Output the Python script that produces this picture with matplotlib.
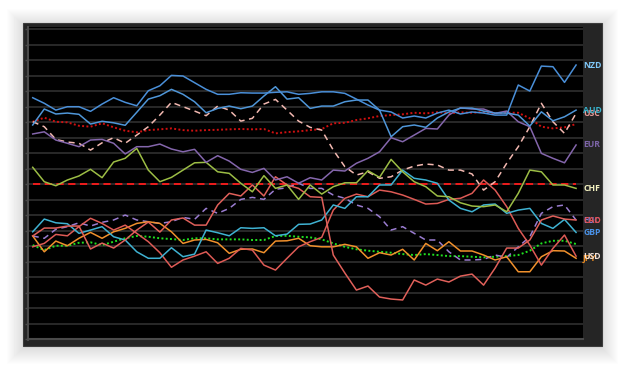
import matplotlib
matplotlib.use("Agg")
import matplotlib.pyplot as plt
from matplotlib.patches import Rectangle
import matplotlib.transforms as mtransforms

# ---- data (index = period, value = relative strength units) ----
periods = list(range(48))

nzd = [5.57, 5.21, 4.77, 4.99, 4.99, 4.69, 5.16, 5.57, 5.27, 5.05, 6.02, 6.34, 7.01, 6.97, 6.54, 6.11,
       5.79, 5.79, 5.89, 5.87, 5.87, 5.92, 5.95, 5.79, 5.85, 5.95, 5.95, 5.85, 5.48, 5.10, 4.77, 4.65,
       4.26, 4.39, 4.26, 4.58, 4.77, 4.52, 4.65, 4.58, 4.45, 4.45, 6.39, 6.00, 7.61, 7.57, 6.56, 7.68]
aud = [3.81, 4.84, 4.52, 4.58, 4.50, 3.87, 4.05, 3.95, 3.79, 4.63, 5.48, 5.70, 6.11, 5.79, 5.31, 4.60,
       4.88, 5.03, 4.86, 5.03, 5.68, 6.28, 5.48, 5.57, 4.88, 5.03, 5.03, 5.31, 5.42, 5.42, 4.77, 3.05,
       3.70, 3.81, 3.66, 4.26, 4.65, 4.90, 4.90, 4.71, 4.58, 4.58, 4.45, 3.74, 4.66, 4.08, 4.34, 4.77]
usc = [4.02, 3.70, 2.88, 2.71, 2.63, 2.19, 2.66, 2.99, 2.63, 3.16, 3.70, 4.45, 5.27, 4.99, 4.71, 4.41,
       5.03, 4.77, 4.06, 4.24, 5.16, 5.46, 4.77, 4.06, 3.66, 3.48, 2.19, 1.12, 0.58, 0.79, 0.37, 0.47,
       0.90, 1.16, 1.29, 1.23, 0.90, 0.90, 0.65, -0.39, 0.15, 1.34, 2.41, 3.70, 5.21, 4.02, 3.27, 4.56]
usc_avg = [4.02, 4.28, 4.02, 3.98, 3.76, 3.70, 3.92, 3.66, 3.44, 3.34, 3.48, 3.53, 3.59, 3.48, 3.44, 3.48,
           3.50, 3.53, 3.55, 3.53, 3.55, 3.27, 3.35, 3.40, 3.48, 3.55, 3.92, 3.95, 4.13, 4.24, 4.39, 4.45,
           4.50, 4.60, 4.56, 4.63, 4.56, 4.63, 4.60, 4.65, 4.56, 4.60, 4.60, 4.24, 3.70, 3.59, 3.66, 3.87]
eur = [3.23, 3.37, 2.84, 2.63, 2.41, 2.84, 2.88, 2.63, 1.94, 2.41, 2.41, 2.58, 2.26, 2.08, 2.24, 1.40,
       1.83, 1.48, 0.95, 0.75, 1.01, 0.26, 0.47, 0.05, 0.41, 0.26, 0.90, 0.84, 1.34, 1.66, 2.08, 2.99,
       2.73, 3.16, 3.59, 3.55, 4.45, 4.92, 4.84, 4.84, 4.56, 4.71, 4.02, 3.70, 1.98, 1.66, 1.37, 2.52]
chf = [1.08, 0.15, -0.11, 0.26, 0.52, 0.95, 0.41, 1.42, 1.66, 2.30, 0.90, 0.15, 0.43, 0.90, 1.37, 1.40,
       0.79, 0.69, 0.05, -0.50, 0.54, -0.28, -0.06, -0.99, -0.06, -0.65, -0.17, 0.08, 0.08, 0.86, 0.43, 1.59,
       0.79, 0.15, -0.17, -0.77, -0.82, -1.21, -1.42, -1.46, -1.35, -1.79, -0.60, 0.90, 0.79, -0.06, -0.06, -0.28]
zero = [0.0] * 48
cad = [-3.35, -2.84, -2.84, -2.71, -2.71, -4.19, -3.81, -4.13, -3.61, -2.97, -2.45, -3.10, -2.32, -2.19, -2.65, -2.65,
       -1.35, -0.60, -0.77, -0.06, -0.77, 0.47, -0.06, -0.28, -0.82, -0.86, -4.58, -5.74, -6.84, -6.58, -7.29, -7.42,
       -7.48, -6.19, -6.52, -6.13, -6.32, -5.94, -5.81, -6.52, -5.42, -4.13, -4.13, -3.61, -2.32, -2.06, -2.26, -2.32]
euc = [-3.35, -3.50, -2.92, -2.75, -2.50, -2.71, -2.47, -2.32, -2.00, -2.32, -2.43, -2.54, -2.43, -2.15, -2.28, -1.57,
       -1.89, -1.57, -0.99, -0.86, -0.99, -0.34, -0.24, 0.05, -0.28, -0.28, -0.71, -0.92, -1.35, -1.57, -2.11, -2.97,
       -2.75, -3.18, -3.61, -3.61, -4.37, -4.90, -4.90, -4.86, -4.58, -4.73, -4.05, -3.40, -1.89, -1.46, -1.35, -2.32]
gbp = [-3.08, -2.26, -2.50, -2.56, -3.18, -2.97, -2.75, -3.40, -3.61, -4.37, -4.79, -4.79, -4.11, -4.69, -4.52, -2.97,
       -3.14, -3.34, -2.82, -2.86, -2.82, -3.34, -3.23, -2.60, -2.58, -2.32, -1.35, -1.57, -0.82, -0.82, -0.06, -0.06,
       0.90, 0.37, 0.26, 0.05, -1.03, -1.57, -1.79, -1.35, -1.29, -1.89, -1.68, -1.57, -2.54, -2.86, -2.28, -3.12]
usd_avg = [-3.94, -4.26, -3.98, -3.98, -3.79, -3.76, -3.94, -3.72, -3.50, -3.35, -3.40, -3.50, -3.55, -3.61, -3.50, -3.50,
           -3.57, -3.57, -3.57, -3.61, -3.61, -3.35, -3.34, -3.40, -3.44, -3.57, -3.83, -4.05, -4.21, -4.30, -4.37, -4.43,
           -4.52, -4.58, -4.52, -4.58, -4.65, -4.65, -4.69, -4.73, -4.69, -4.65, -4.58, -4.30, -3.83, -3.66, -3.66, -3.87]
usd = [-4.05, -3.83, -3.25, -3.34, -2.75, -2.21, -2.54, -2.97, -2.65, -3.18, -3.72, -4.43, -5.37, -4.90, -4.65, -4.37,
       -5.12, -4.79, -4.15, -4.26, -5.23, -5.55, -4.79, -4.05, -3.72, -3.44, -1.68, -0.92, -0.65, -0.82, -0.39, -0.50,
       -0.71, -0.99, -1.29, -1.25, -0.99, -0.92, -0.60, 0.26, -0.39, -1.46, -2.86, -3.94, -5.23, -4.15, -3.29, -4.65]
jpy = [-3.35, -4.37, -3.68, -3.98, -3.50, -3.12, -3.50, -3.08, -2.86, -2.54, -2.43, -2.54, -3.08, -3.83, -3.61, -3.57,
       -3.79, -4.47, -4.21, -4.19, -4.43, -3.68, -3.66, -3.50, -3.98, -4.05, -4.05, -3.89, -4.05, -4.79, -4.43, -4.58,
       -4.21, -4.90, -3.83, -4.30, -3.72, -4.32, -4.32, -4.58, -4.90, -4.69, -5.66, -5.66, -4.69, -4.30, -4.32, -4.79]

# (name, values, line color, style, label, label color, width)
series = [
    ("zero", zero, "#ff1a1a", (0, (4, 2.5)), None, None, 1.3),
    ("usc_avg", usc_avg, "#d01010", (0, (1, 1.2)), None, None, 1.4),
    ("usd_avg", usd_avg, "#20e020", (0, (1, 1.2)), None, None, 1.4),
    ("usc", usc, "#f2b8b0", (0, (4, 3)), "USC", "#e89a98", 1.1),
    ("euc", euc, "#9a7cd0", (0, (4, 3)), "EUC", "#8e7ad0", 1.1),
    ("jpy", jpy, "#f0902c", "-", "JPY", "#e88a20", 1.1),
    ("usd", usd, "#dd5a55", "-", "USD", "#f2e2da", 1.1),
    ("gbp", gbp, "#3fb2d2", "-", "GBP", "#4a92e8", 1.1),
    ("cad", cad, "#e0605a", "-", "CAD", "#e05050", 1.1),
    ("chf", chf, "#9cbd45", "-", "CHF", "#f4f2c0", 1.1),
    ("eur", eur, "#8466ac", "-", "EUR", "#7d64a8", 1.1),
    ("aud", aud, "#4f96d8", "-", "AUD", "#38b2cc", 1.1),
    ("nzd", nzd, "#4a8fd8", "-", "NZD", "#80c8f8", 1.1),
]

W, H = 625, 369
fig = plt.figure(figsize=(W / 100, H / 100), dpi=100, facecolor="white")

def fx(px):
    return px / W

def fy(py):
    return 1 - py / H

# shadow + frame
fl, fr, ft, fb = 22.5, 602.0, 22.5, 346.0
for k in range(16, 0, -1):
    fig.patches.append(Rectangle((fx(fl - k), fy(fb + k + 2)), fx(fr - fl + 2 * k), (fb - ft + 2 * k) / H,
                                 transform=fig.transFigure, facecolor="black", alpha=0.009,
                                 edgecolor="none", zorder=-3))
fig.patches.append(Rectangle((fx(fl), fy(fb)), fx(fr - fl), (fb - ft) / H, transform=fig.transFigure,
                             facecolor="#252525", edgecolor="#3c3c3c", linewidth=0.8, zorder=-2))

ax_l, ax_r, ax_t, ax_b = 27.5, 583.0, 27.5, 339.5
ax = fig.add_axes([fx(ax_l), fy(ax_b), fx(ax_r - ax_l), (ax_b - ax_t) / H])
ax.set_zorder(5)
ax.set_facecolor("black")
ax.set_xlim(-0.45, 47.6)
ax.set_ylim(-10.03, 10.1)

for g in range(-9, 11):
    ax.axhline(g, color="#2f2f2f", linewidth=1.2, zorder=1)

for side in ["top", "right"]:
    ax.spines[side].set_visible(False)
for side in ["left", "bottom"]:
    ax.spines[side].set_color("#4a4a4a")
    ax.spines[side].set_linewidth(1.5)
ax.spines["bottom"].set_position(("data", -10))
ax.set_xticks([])
ax.set_yticks(range(-10, 11))
ax.tick_params(axis="y", length=2, width=1, color="#4a4a4a", labelleft=False)

trans = mtransforms.blended_transform_factory(ax.transAxes, ax.transData)
for name, vals, col, ls, lab, labcol, lw in series:
    ax.plot(periods, vals, color=col, linestyle=ls, linewidth=lw, zorder=3)
    if lab:
        ax.text(1.0, vals[-1], lab, transform=trans, color=labcol, fontsize=6.2,
                fontweight="bold", family="Open Sans", ha="left", va="center", clip_on=False, zorder=5)

fig.savefig("out.png", dpi=100, facecolor="white")
